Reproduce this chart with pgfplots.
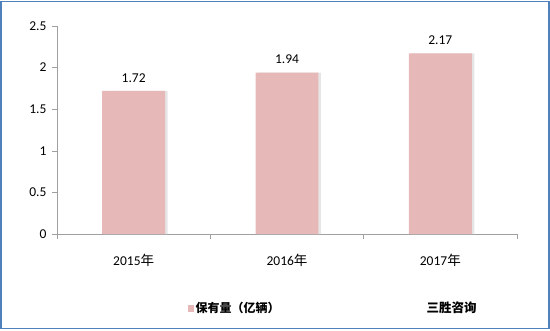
\documentclass[border=0pt]{standalone}
\usepackage{pgfplots}
\pgfplotsset{compat=1.18}
\usepackage{fontspec}
\setmainfont{Carlito}
\newfontfamily\cjk{Noto Sans CJK SC}
\definecolor{barpink}{HTML}{E6B9B8}
\definecolor{frameblue}{HTML}{4F81BD}
\definecolor{axgray}{HTML}{A0A0A0}
\begin{document}
\begin{tikzpicture}
\useasboundingbox (0pt,0pt) rectangle (550pt,330pt);
\draw[frameblue, line width=1.8pt] (1pt,1.5pt) rectangle (549pt,328.5pt);
\begin{axis}[
  at={(57pt,96pt)}, anchor=origin,
  scale only axis, width=460pt, height=208pt,
  xmin=0, xmax=3, ymin=0, ymax=2.5,
  axis x line*=bottom, axis y line*=left,
  axis line style={axgray, line width=0.8pt},
  ytick={0,0.5,...,2.5},
  yticklabels={0,0.5,1,1.5,2,2.5},
  yticklabel style={xshift=-2pt},
  xtick={0,1,2,3}, xticklabels={},
  tick style={axgray, line width=0.6pt},
  major tick length=5pt,
  tick align=outside,
  extra x ticks={0.5,1.5,2.5},
  extra x tick labels={2015{\cjk 年},2016{\cjk 年},2017{\cjk 年}},
  extra x tick style={major tick length=0pt, tick label style={yshift=-17pt}},
  ticklabel style={font=\fontsize{13.5}{15}\selectfont, text=black},
  /pgf/number format/assume math mode=true,
  ybar, bar width=0.41,
  legend style={draw=none, fill=none, at={(0.278,-0.356)}, anchor=west,
    font=\cjk\bfseries\fontsize{12}{14}\selectfont, legend cell align=left},
  legend image code/.code={\fill[barpink] (0pt,-3.5pt) rectangle (5.5pt,3.5pt);},
  clip=false,
]
\addplot[fill=black!10, draw=none, bar shift=2.5pt, forget plot] coordinates {(0.5,1.72) (1.5,1.94) (2.5,2.17)};
\addplot[fill=barpink, draw=none, bar shift=0pt,
  nodes near coords,
  nodes near coords style={font=\fontsize{13.5}{15}\selectfont, text=black, yshift=5pt,
    /pgf/number format/fixed, /pgf/number format/precision=2, /pgf/number format/fixed zerofill}]
  coordinates {(0.5,1.72) (1.5,1.94) (2.5,2.17)};
\addlegendentry{保有量（亿辆）}
\end{axis}
\node[anchor=west, font=\cjk\bfseries\fontsize{12.5}{14}\selectfont] at (423pt,22pt) {三胜咨询};
\end{tikzpicture}
\end{document}
